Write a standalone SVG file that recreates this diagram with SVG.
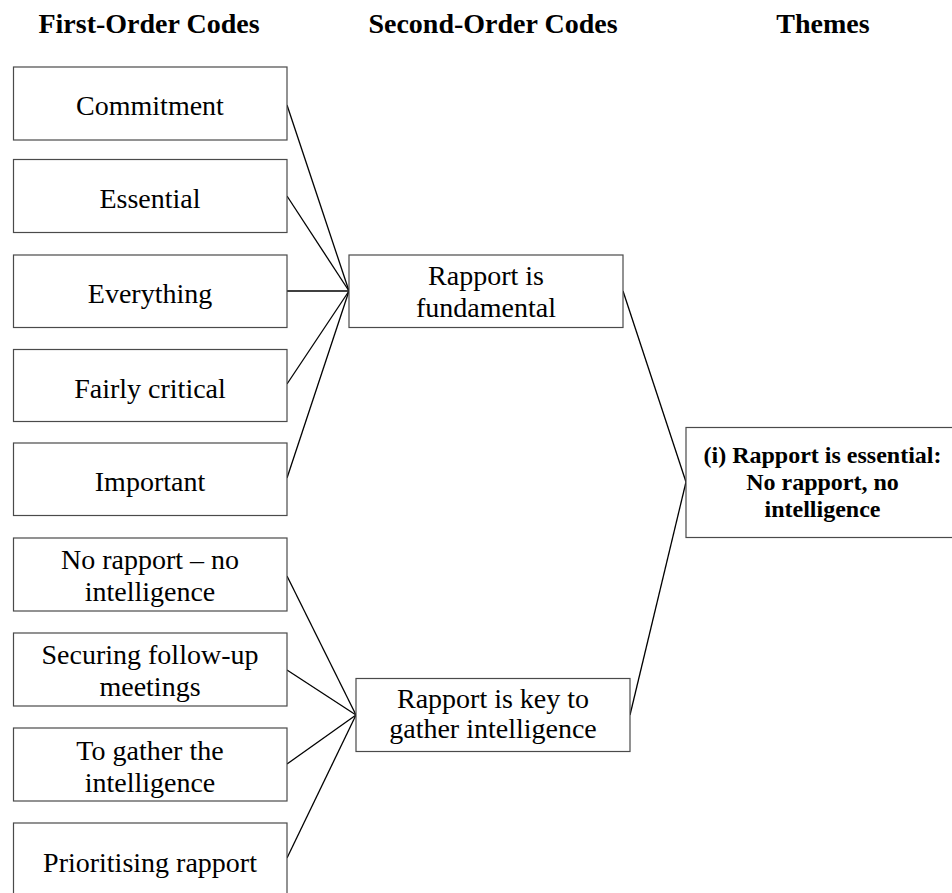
<svg xmlns="http://www.w3.org/2000/svg" width="952" height="893" viewBox="0 0 952 893">
  <style>
    .box { fill: #ffffff; stroke: #4a4a4a; stroke-width: 1.2; }
    .lbl { font-family: "Liberation Serif", "Times New Roman", serif; font-size: 28px; fill: #000; text-anchor: middle; }
    .head { font-family: "Liberation Serif", "Times New Roman", serif; font-size: 28px; font-weight: bold; fill: #000; text-anchor: middle; }
    .theme { font-family: "Liberation Serif", "Times New Roman", serif; font-size: 24px; font-weight: bold; fill: #000; text-anchor: middle; }
    .link { stroke: #000; stroke-width: 1.3; fill: none; }
  </style>
  <rect width="952" height="893" fill="#ffffff"/>

  <!-- column headings -->
  <g id="headings">
    <text class="head" x="149" y="33">First-Order Codes</text>
    <text class="head" x="493" y="33">Second-Order Codes</text>
    <text class="head" x="823" y="33">Themes</text>
  </g>

  <!-- connectors -->
  <g id="connectors">
    <line class="link" x1="287" y1="105" x2="349" y2="291"/>
    <line class="link" x1="287" y1="196" x2="349" y2="291"/>
    <line class="link" x1="287" y1="291" x2="349" y2="291"/>
    <line class="link" x1="287" y1="384" x2="349" y2="291"/>
    <line class="link" x1="287" y1="478" x2="349" y2="291"/>
    <line class="link" x1="287" y1="576" x2="356" y2="715"/>
    <line class="link" x1="287" y1="670" x2="356" y2="715"/>
    <line class="link" x1="287" y1="764" x2="356" y2="715"/>
    <line class="link" x1="287" y1="858" x2="356" y2="715"/>
    <line class="link" x1="623" y1="291" x2="686" y2="482"/>
    <line class="link" x1="630" y1="715" x2="686" y2="482"/>
  </g>

  <!-- first-order codes -->
  <g id="fo-commitment">
    <rect class="box" x="13.5" y="67" width="273.5" height="73"/>
    <text class="lbl" x="150" y="115">Commitment</text>
  </g>
  <g id="fo-essential">
    <rect class="box" x="13.5" y="159.5" width="273.5" height="73"/>
    <text class="lbl" x="150" y="208">Essential</text>
  </g>
  <g id="fo-everything">
    <rect class="box" x="13.5" y="255" width="273.5" height="72.5"/>
    <text class="lbl" x="150" y="303">Everything</text>
  </g>
  <g id="fo-fairly-critical">
    <rect class="box" x="13.5" y="349.5" width="273.5" height="72"/>
    <text class="lbl" x="150" y="398">Fairly critical</text>
  </g>
  <g id="fo-important">
    <rect class="box" x="13.5" y="443" width="273.5" height="72.5"/>
    <text class="lbl" x="150" y="491">Important</text>
  </g>
  <g id="fo-no-rapport">
    <rect class="box" x="13.5" y="538" width="273.5" height="73"/>
    <text class="lbl" x="150" y="569">No rapport – no</text>
    <text class="lbl" x="150" y="601">intelligence</text>
  </g>
  <g id="fo-securing">
    <rect class="box" x="13.5" y="633" width="273.5" height="73"/>
    <text class="lbl" x="150" y="664">Securing follow-up</text>
    <text class="lbl" x="150" y="696">meetings</text>
  </g>
  <g id="fo-gather">
    <rect class="box" x="13.5" y="728" width="273.5" height="73"/>
    <text class="lbl" x="150" y="760">To gather the</text>
    <text class="lbl" x="150" y="792">intelligence</text>
  </g>
  <g id="fo-prioritising">
    <rect class="box" x="13.5" y="823" width="273.5" height="73"/>
    <text class="lbl" x="150" y="872">Prioritising rapport</text>
  </g>

  <!-- second-order codes -->
  <g id="so-fundamental">
    <rect class="box" x="349" y="255" width="274" height="72.5"/>
    <text class="lbl" x="486" y="285">Rapport is</text>
    <text class="lbl" x="486" y="317">fundamental</text>
  </g>
  <g id="so-key">
    <rect class="box" x="356" y="678.5" width="274" height="73"/>
    <text class="lbl" x="493" y="708">Rapport is key to</text>
    <text class="lbl" x="493" y="738">gather intelligence</text>
  </g>

  <!-- theme -->
  <g id="theme-essential">
    <rect class="box" x="686" y="427.5" width="270" height="110"/>
    <text class="theme" x="822.5" y="463">(i) Rapport is essential:</text>
    <text class="theme" x="822.5" y="490">No rapport, no</text>
    <text class="theme" x="822.5" y="517">intelligence</text>
  </g>
</svg>
